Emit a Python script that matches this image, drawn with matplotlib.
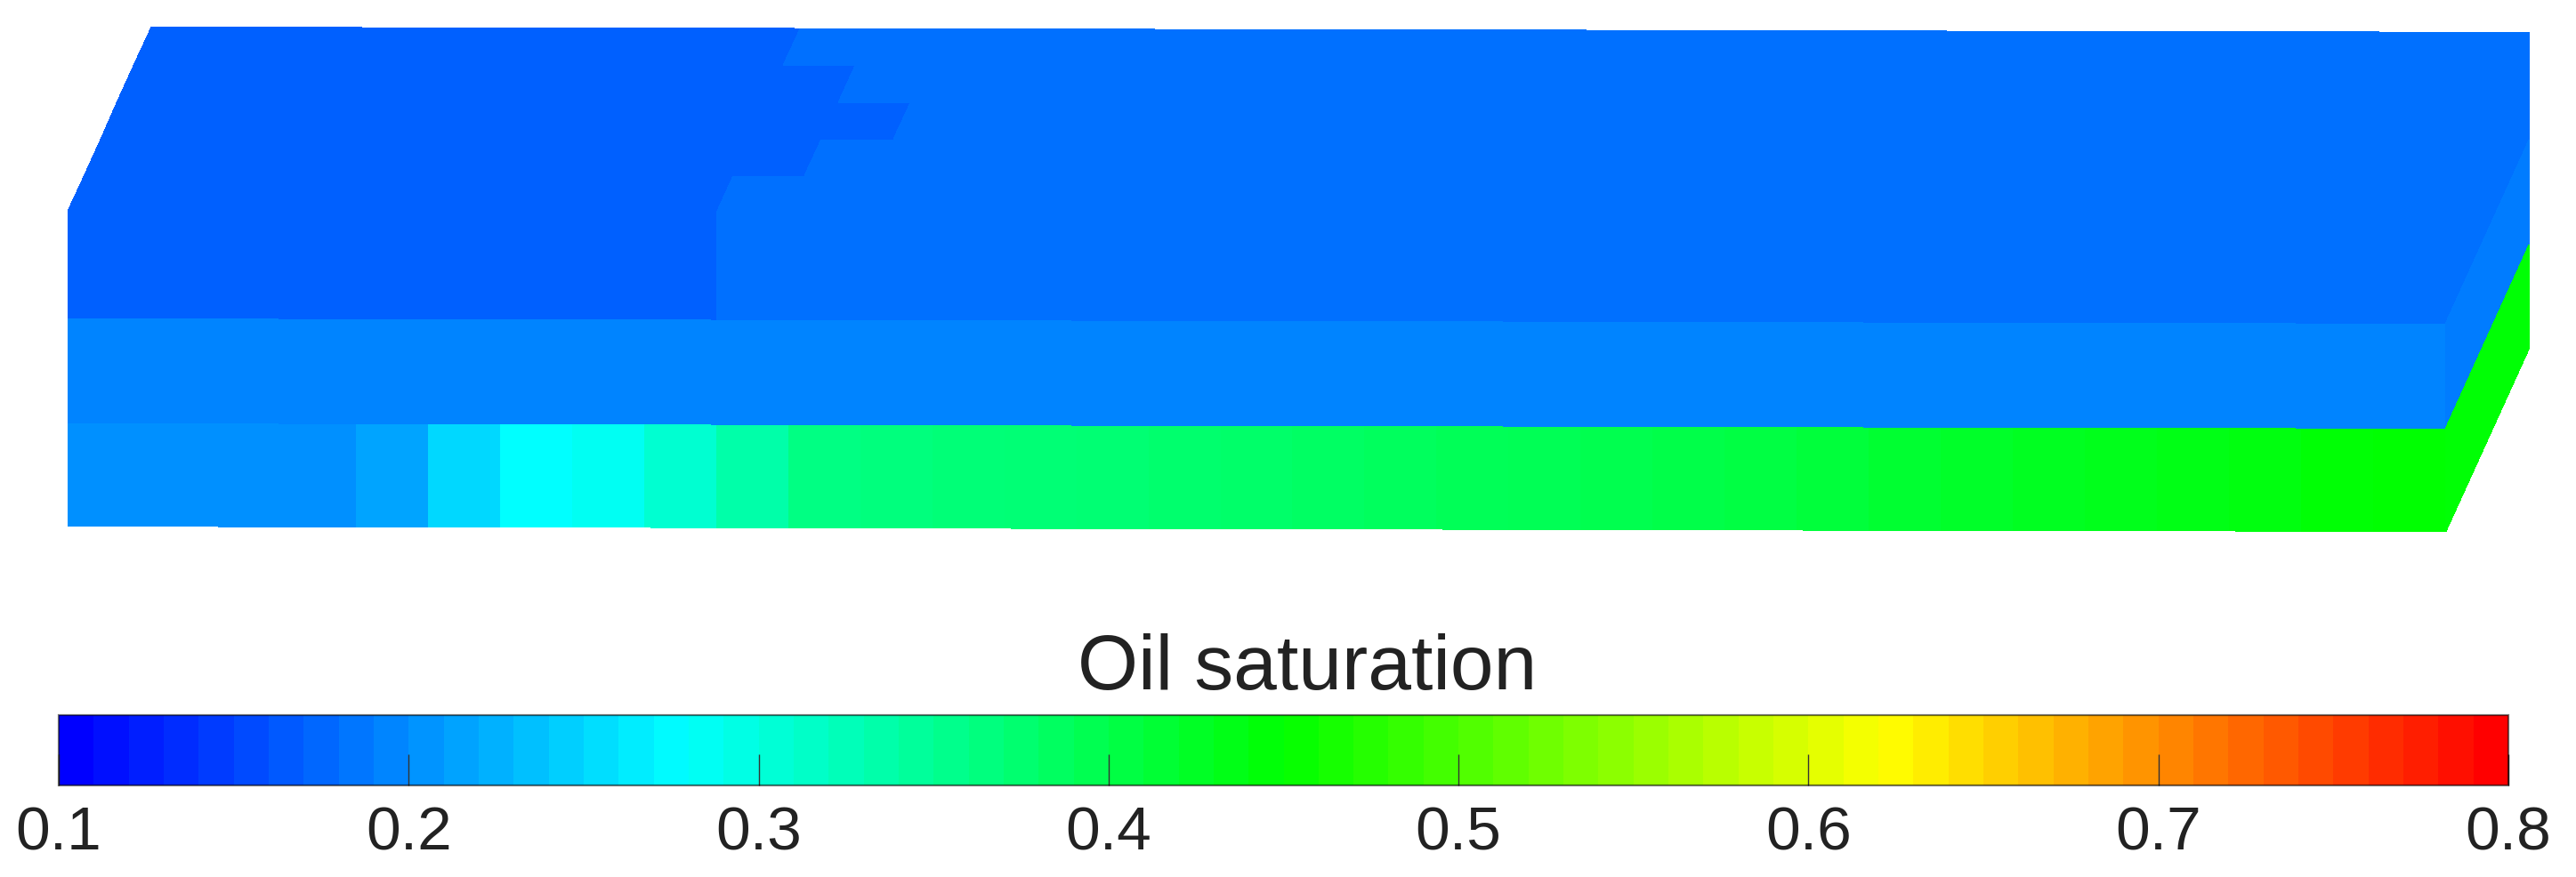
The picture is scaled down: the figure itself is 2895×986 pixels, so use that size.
import numpy as np
import matplotlib
matplotlib.use("Agg")
import matplotlib.pyplot as plt
from matplotlib.colors import LinearSegmentedColormap, Normalize
from matplotlib.cm import ScalarMappable

plt.rcParams['font.family'] = ['Liberation Sans', 'DejaVu Sans']

# ---- data: oil saturation per grid cell (33 cells along the length) ----
title = "Oil saturation"
tick_values = [0.1, 0.2, 0.3, 0.4, 0.5, 0.6, 0.7, 0.8]
tick_labels = ["0.1", "0.2", "0.3", "0.4", "0.5", "0.6", "0.7", "0.8"]
low_sat = 0.166
high_sat = 0.177
dark_cells_by_row = [9, 10, 11, 10, 9]          # top face, front row to back row
upper_dark_cells = 9
middle_layer = [0.191] * 33
lower_layer = [0.199, 0.199, 0.199, 0.199, 0.2125, 0.248, 0.275, 0.284, 0.307, 0.335,
               0.360, 0.365, 0.368, 0.370, 0.372, 0.375, 0.378, 0.382, 0.386, 0.390,
               0.392, 0.396, 0.400, 0.404, 0.410, 0.416, 0.422, 0.428, 0.432, 0.436,
               0.440, 0.446, 0.450]
side_upper = 0.177
side_middle = 0.186
side_lower = 0.447

W, H = 2895, 986
fig = plt.figure(figsize=(W / 100, H / 100), dpi=100, facecolor='white')
ax = fig.add_axes([0, 0, 1, 1])
ax.set_xlim(0, W)
ax.set_ylim(H, 0)
ax.axis('off')

stops = [(0, 0, 1), (0, 1, 1), (0, 1, 0), (1, 1, 0), (1, 0, 0)]
cmap = LinearSegmentedColormap.from_list('rainbow5', stops, N=512)
cmap_bar = LinearSegmentedColormap.from_list('rainbow5b', stops, N=70)
norm = Normalize(0.1, 0.8)

nx = len(lower_layer)
x0, dx = 76.0, (2748.0 - 76.0) / nx
tilt = 6.0
shift_x, shift_y = 94.0, -207.0
nrows = len(dark_cells_by_row)


def mesh(X, Y, V):
    ax.pcolormesh(X, Y, np.asarray(V, float), cmap=cmap, norm=norm, shading='flat',
                  edgecolors='face', linewidth=0.6)


ix = np.arange(nx + 1)
front_x = x0 + dx * ix
front_tilt = tilt * ix / nx
levels = [237.0, 358.0, 476.0, 591.0]

# front faces
upper = [low_sat if i < upper_dark_cells else high_sat for i in range(nx)]
for k, vals in enumerate([upper, middle_layer, lower_layer]):
    X = np.vstack([front_x, front_x])
    Y = np.vstack([levels[k] + front_tilt, levels[k + 1] + front_tilt])
    mesh(X, Y, [vals])

# top face
top_vals = [[low_sat if i < n else high_sat for i in range(nx)] for n in dark_cells_by_row]
frac = np.arange(nrows + 1) / nrows
X = np.array([front_x + shift_x * f for f in frac])
Y = np.array([levels[0] + front_tilt + shift_y * f for f in frac])
mesh(X, Y, top_vals)

# right side face
side_x0 = front_x[-1]
fr = np.array([0.0, 1.0])
for k, v in enumerate([side_upper, side_middle, side_lower]):
    X = np.array([side_x0 + shift_x * fr, side_x0 + shift_x * fr])
    top = levels[k] + tilt + shift_y * fr
    bot = levels[k + 1] + tilt + shift_y * fr
    mesh(X, np.array([top, bot]), [[v]])

# colour bar
left, right, top_px, bot_px = 66, 2819, 804, 883
cax = fig.add_axes([left / W, 1 - bot_px / H, (right - left) / W, (bot_px - top_px) / H])
cb = fig.colorbar(ScalarMappable(norm=norm, cmap=cmap_bar), cax=cax, orientation='horizontal')
cb.set_ticks(tick_values)
cb.set_ticklabels(tick_labels)
cb.minorticks_off()
cb.outline.set_linewidth(1.6)
cb.outline.set_edgecolor((0, 0, 0, 0.55))
cax.tick_params(axis='x', direction='in', length=25, width=1.0, color='#333333',
                labelsize=50, labelcolor='#222222', pad=16)

fig.text(1469 / W, 1 - 775 / H, title, fontsize=63, color='#222222', ha='center', va='baseline')

fig.savefig('out.png', dpi=100, facecolor='white')
